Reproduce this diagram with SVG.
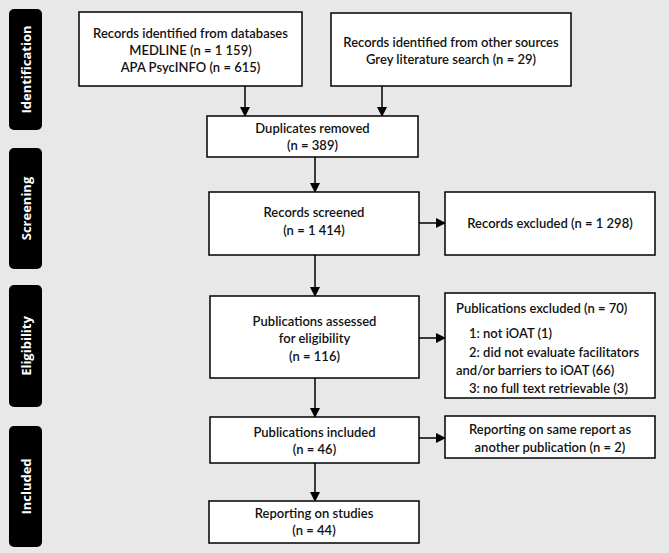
<svg xmlns="http://www.w3.org/2000/svg" width="669" height="553" viewBox="0 0 669 553">
<defs>
<marker id="ah" markerWidth="10" markerHeight="10" refX="9" refY="5" orient="auto" markerUnits="userSpaceOnUse">
<path d="M0,0 L10,5 L0,10 Z" fill="#000"/>
</marker>
</defs>
<style>
.box{fill:#fff;stroke:#000;stroke-width:1.5}
.t{font-family:Lato,"Open Sans","Liberation Sans",sans-serif;font-size:13px;font-weight:600;fill:#111;text-anchor:middle}
.l{text-anchor:start}
.side{fill:#000}
.st{font-family:"Open Sans","Liberation Sans",sans-serif;font-size:13px;font-weight:bold;fill:#fff;text-anchor:middle}
.c{stroke:#000;stroke-width:1.5;fill:none;marker-end:url(#ah)}
</style>
<rect width="669" height="553" fill="#e8e8e8"/>
<g id="phase-identification"><rect class="side" x="9" y="9" width="33" height="121" rx="5"/><text class="st" transform="translate(30.5,69.5) rotate(-90)">Identification</text></g>
<g id="phase-screening"><rect class="side" x="9" y="148" width="33" height="121" rx="5"/><text class="st" transform="translate(30.5,208.5) rotate(-90)">Screening</text></g>
<g id="phase-eligibility"><rect class="side" x="9" y="285" width="33" height="122" rx="5"/><text class="st" transform="translate(30.5,346) rotate(-90)">Eligibility</text></g>
<g id="phase-included"><rect class="side" x="9" y="426" width="33" height="121" rx="5"/><text class="st" transform="translate(30.5,486.5) rotate(-90)">Included</text></g>
<g id="connectors">
<line class="c" x1="245" y1="86" x2="245" y2="116"/>
<line class="c" x1="382" y1="86" x2="382" y2="116"/>
<line class="c" x1="315" y1="157" x2="315" y2="192"/>
<line class="c" x1="315" y1="255" x2="315" y2="296"/>
<line class="c" x1="315" y1="378" x2="315" y2="417"/>
<line class="c" x1="315" y1="463" x2="315" y2="501"/>
<line class="c" x1="419" y1="223" x2="445" y2="223"/>
<line class="c" x1="419" y1="338" x2="445" y2="338"/>
<line class="c" x1="419" y1="438" x2="445" y2="438"/>
</g>
<g id="n-databases"><rect class="box" x="79" y="12" width="223" height="74"/><text class="t" x="190.5" y="38">Records identified from databases</text><text class="t" x="190.5" y="55">MEDLINE (n = 1 159)</text><text class="t" x="190.5" y="72">APA PsycINFO (n = 615)</text></g>
<g id="n-other"><rect class="box" x="331" y="13" width="240" height="73"/><text class="t" x="451" y="47">Records identified from other sources</text><text class="t" x="451" y="64">Grey literature search (n = 29)</text></g>
<g id="n-duplicates"><rect class="box" x="207" y="116" width="211" height="41"/><text class="t" x="312.5" y="133">Duplicates removed</text><text class="t" x="312.5" y="150">(n = 389)</text></g>
<g id="n-screened"><rect class="box" x="209" y="192" width="210" height="63"/><text class="t" x="314" y="217">Records screened</text><text class="t" x="314" y="235">(n = 1 414)</text></g>
<g id="n-excluded"><rect class="box" x="445" y="192" width="210" height="63"/><text class="t" x="550" y="228">Records excluded (n = 1 298)</text></g>
<g id="n-assessed"><rect class="box" x="210" y="296" width="209" height="82"/><text class="t" x="314.5" y="326">Publications assessed</text><text class="t" x="314.5" y="343">for eligibility</text><text class="t" x="314.5" y="361">(n = 116)</text></g>
<g id="n-pubexcluded"><rect class="box" x="445" y="293" width="210" height="105"/><text class="t l" x="456" y="313">Publications excluded (n = 70)</text><text class="t l" x="469" y="338">1: not iOAT (1)</text><text class="t l" x="469" y="357">2: did not evaluate facilitators</text><text class="t l" x="456" y="375">and/or barriers to iOAT (66)</text><text class="t l" x="469" y="393">3: no full text retrievable (3)</text></g>
<g id="n-included"><rect class="box" x="210" y="417" width="209" height="46"/><text class="t" x="314.5" y="437">Publications included</text><text class="t" x="314.5" y="454">(n = 46)</text></g>
<g id="n-samereport"><rect class="box" x="445" y="416" width="210" height="42"/><text class="t" x="550" y="434">Reporting on same report as</text><text class="t" x="550" y="452">another publication (n = 2)</text></g>
<g id="n-studies"><rect class="box" x="209" y="501" width="210" height="42"/><text class="t" x="314" y="518">Reporting on studies</text><text class="t" x="314" y="535">(n = 44)</text></g>
</svg>
